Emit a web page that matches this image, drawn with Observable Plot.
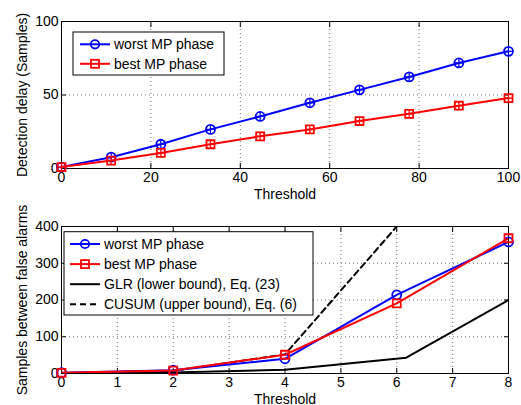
<!DOCTYPE html>
<html>
<head>
<meta charset="utf-8">
<script src="https://cdn.jsdelivr.net/npm/d3@7"></script>
<script src="https://cdn.jsdelivr.net/npm/@observablehq/plot@0.6"></script>
<style>
  body { margin: 0; background: #fff; }
  #wrap { position: relative; width: 521px; height: 405px; }
  #top, #bot { position: absolute; left: 0; }
  #top { top: 0; }
  #bot { top: 200px; }
</style>
</head>
<body>
<div id="wrap"><div id="top"></div><div id="bot"></div></div>
<script>
// ---- Top panel data ----
const thrTop = [0, 11.11, 22.22, 33.33, 44.44, 55.56, 66.67, 77.78, 88.89, 100];
const delayWorst = [1, 7.7, 16.5, 26.6, 35.4, 44.7, 53.5, 62.3, 71.8, 79.7];
const delayBest = [1, 5.4, 10.6, 16.5, 21.9, 26.6, 32.3, 37.2, 42.7, 47.9];
const topXTicks = [0, 20, 40, 60, 80, 100];
const topYTicks = [0, 50, 100];

// ---- Bottom panel data ----
const thrBot = [0, 2, 4, 6, 8];
const falseWorst = [2, 9, 40, 214, 358];
const falseBest = [2, 8, 51, 191, 368];
const thrGLR = [0, 2, 4, 6.17, 8];
const glrLower = [1, 3, 10, 43, 200];
const thrCUSUM = [0, 2, 4, 6];
const cusumUpper = [1, 7, 52, 400];
const botXTicks = [0, 1, 2, 3, 4, 5, 6, 7, 8];
const botYTicks = [0, 100, 200, 300, 400];

const legendTop = ["worst MP phase", "best MP phase"];
const legendBot = ["worst MP phase", "best MP phase", "GLR (lower bound), Eq. (23)", "CUSUM (upper bound), Eq. (6)"];

const BLUE = "#0000ff", RED = "#ff0000";
const FONT = "'Liberation Sans', Arial, Helvetica, sans-serif";

function pts(xs, ys) { return xs.map((x, i) => ({x, y: ys[i]})); }

function axes(xTicks, yTicks, yLabel, yLabelOffset) {
  return [
    Plot.gridX(xTicks.slice(1, -1), {stroke: "#000", strokeOpacity: 0.55, strokeDasharray: "1,3"}),
    Plot.gridY(yTicks.slice(1, -1), {stroke: "#000", strokeOpacity: 0.55, strokeDasharray: "1,3"}),
    Plot.axisX(xTicks, {anchor: "bottom", tickSize: -5, tickPadding: 9, label: "Threshold", labelAnchor: "center", labelArrow: "none", labelOffset: 30, fontSize: 14}),
    Plot.axisX(xTicks, {anchor: "top", tickSize: -5, tickFormat: () => "", label: null}),
    Plot.axisY(yTicks, {anchor: "left", tickSize: -5, tickPadding: 8, label: yLabel, labelAnchor: "center", labelArrow: "none", labelOffset: yLabelOffset, fontSize: 14}),
    Plot.axisY(yTicks, {anchor: "right", tickSize: -5, tickFormat: () => "", label: null}),
    Plot.frame({stroke: "#000", strokeWidth: 1})
  ];
}

function addLegend(svg, box, items) {
  const g = d3.select(svg).append("g").attr("text-anchor", "start");
  g.append("rect").attr("x", box.x).attr("y", box.y).attr("width", box.w).attr("height", box.h)
    .attr("fill", "#fff").attr("stroke", "#000").attr("stroke-width", 1);
  items.forEach((it, i) => {
    const y = box.y0 + i * box.dy;
    const line = g.append("line").attr("x1", box.lx1).attr("x2", box.lx2).attr("y1", y).attr("y2", y)
      .attr("stroke", it.color).attr("stroke-width", 2);
    if (it.dash) line.attr("stroke-dasharray", "6,4");
    const mx = (box.lx1 + box.lx2) / 2;
    if (it.marker === "circle") {
      g.append("circle").attr("cx", mx).attr("cy", y).attr("r", 4.2).attr("fill", "none").attr("stroke", it.color).attr("stroke-width", 1.8);
    } else if (it.marker === "square") {
      g.append("rect").attr("x", mx - 4).attr("y", y - 4).attr("width", 8).attr("height", 8).attr("fill", "none").attr("stroke", it.color).attr("stroke-width", 1.8);
    }
    g.append("text").attr("x", box.tx).attr("y", y).attr("dy", "0.36em").attr("font-size", 14)
      .attr("text-anchor", "start")
      .attr("font-family", FONT).attr("fill", "#000").text(it.label);
  });
}

// ---- Top plot ----
const topPlot = Plot.plot({
  width: 521, height: 200,
  marginLeft: 61, marginRight: 13, marginTop: 21, marginBottom: 32,
  style: {fontFamily: FONT, fontSize: "14px", color: "#000", background: "#fff"},
  x: {domain: [0, 100]},
  y: {domain: [0, 100]},
  marks: [
    ...axes(topXTicks, topYTicks, "Detection delay (Samples)", 44),
    Plot.line(pts(thrTop, delayWorst), {x: "x", y: "y", stroke: BLUE, strokeWidth: 2}),
    Plot.dot(pts(thrTop, delayWorst), {x: "x", y: "y", stroke: BLUE, r: 4.5, strokeWidth: 1.8}),
    Plot.dot(pts(thrTop, delayWorst), {x: "x", y: "y", stroke: BLUE, symbol: "plus", r: 3, strokeWidth: 1.2}),
    Plot.line(pts(thrTop, delayBest), {x: "x", y: "y", stroke: RED, strokeWidth: 2}),
    Plot.dot(pts(thrTop, delayBest), {x: "x", y: "y", stroke: RED, symbol: "square", r: 4.5, strokeWidth: 1.8}),
    Plot.dot(pts(thrTop, delayBest), {x: "x", y: "y", stroke: RED, symbol: "plus", r: 3, strokeWidth: 1.2})
  ]
});
document.getElementById("top").appendChild(topPlot);
addLegend(topPlot, {x: 73, y: 32, w: 151, h: 43, y0: 44.3, dy: 19.5, lx1: 80, lx2: 110, tx: 114}, [
  {label: legendTop[0], color: BLUE, marker: "circle"},
  {label: legendTop[1], color: RED, marker: "square"}
]);

// ---- Bottom plot ----
const botPlot = Plot.plot({
  width: 521, height: 205,
  marginLeft: 61, marginRight: 13, marginTop: 26, marginBottom: 32,
  style: {fontFamily: FONT, fontSize: "14px", color: "#000", background: "#fff"},
  x: {domain: [0, 8]},
  y: {domain: [0, 400]},
  marks: [
    ...axes(botXTicks, botYTicks, "Samples between false alarms", 44),
    Plot.line(pts(thrGLR, glrLower), {x: "x", y: "y", stroke: "#000", strokeWidth: 2, clip: true}),
    Plot.line(pts(thrCUSUM, cusumUpper), {x: "x", y: "y", stroke: "#000", strokeWidth: 2, strokeDasharray: "6,4", clip: true}),
    Plot.line(pts(thrBot, falseWorst), {x: "x", y: "y", stroke: BLUE, strokeWidth: 2, clip: true}),
    Plot.dot(pts(thrBot, falseWorst), {x: "x", y: "y", stroke: BLUE, r: 4.5, strokeWidth: 1.8}),
    Plot.line(pts(thrBot, falseBest), {x: "x", y: "y", stroke: RED, strokeWidth: 2, clip: true}),
    Plot.dot(pts(thrBot, falseBest), {x: "x", y: "y", stroke: RED, symbol: "square", r: 4.5, strokeWidth: 1.8})
  ]
});
document.getElementById("bot").appendChild(botPlot);
addLegend(botPlot, {x: 64, y: 31.7, w: 249, h: 83.3, y0: 44, dy: 20.1, lx1: 70, lx2: 100, tx: 104}, [
  {label: legendBot[0], color: BLUE, marker: "circle"},
  {label: legendBot[1], color: RED, marker: "square"},
  {label: legendBot[2], color: "#000"},
  {label: legendBot[3], color: "#000", dash: true}
]);
</script>
</body>
</html>
